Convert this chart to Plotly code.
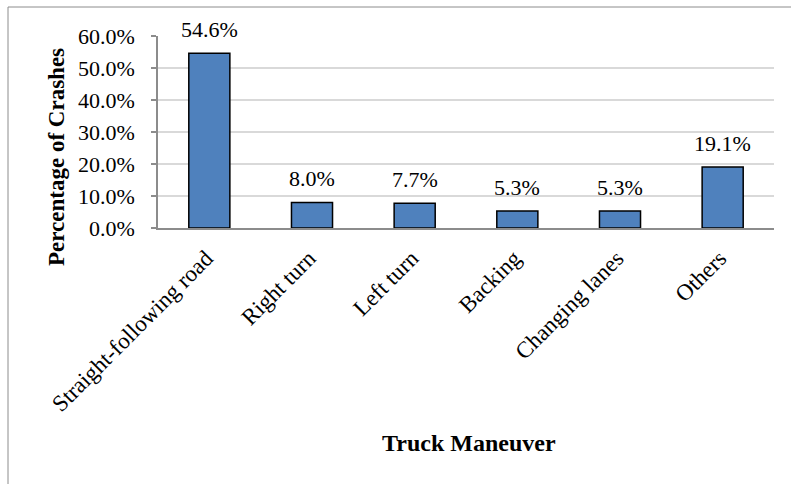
import plotly.graph_objects as go

# Share of truck crashes by maneuver type
maneuvers = ["Straight-following road", "Right turn", "Left turn",
             "Backing", "Changing lanes", "Others"]
shares = [0.546, 0.080, 0.077, 0.053, 0.053, 0.191]
y_ticks = [0.0, 0.1, 0.2, 0.3, 0.4, 0.5, 0.6]

FONT = "Liberation Serif"

fig = go.Figure(
    go.Bar(
        x=maneuvers,
        y=shares,
        marker=dict(color="#4F81BD", line=dict(color="#000000", width=1.5)),
        width=0.4,
        hoverinfo="skip",
    )
)

# value labels sitting just above each bar
for name, v in zip(maneuvers, shares):
    fig.add_annotation(
        x=name, y=v, text=f"{v * 100:.1f}%", showarrow=False,
        yanchor="bottom", yshift=9,
        font=dict(family=FONT, size=22, color="#000000"),
    )

# axis titles
fig.add_annotation(
    x=-0.164, y=0.37, xref="paper", yref="paper",
    xanchor="center", yanchor="middle",
    text="<b>Percentage of Crashes</b>", textangle=-90, showarrow=False,
    font=dict(family=FONT, size=23, color="#000000"),
)
fig.add_annotation(
    x=0.505, y=-1.12, xref="paper", yref="paper",
    xanchor="center", yanchor="middle",
    text="<b>Truck Maneuver</b>", showarrow=False,
    font=dict(family=FONT, size=24, color="#000000"),
)

# chart frame (left and top edges)
frame = dict(color="#8C8C8C", width=1)
fig.add_shape(type="line", xref="paper", yref="paper",
              x0=-0.2435, x1=-0.2435, y0=1.151, y1=-1.5, line=frame)
fig.add_shape(type="line", xref="paper", yref="paper",
              x0=-0.2435, x1=1.5, y0=1.151, y1=1.151, line=frame)

fig.update_layout(
    width=791, height=484,
    margin=dict(l=158, r=17, t=36, b=256),
    paper_bgcolor="white", plot_bgcolor="white",
    showlegend=False,
    bargap=0.6,
    font=dict(family=FONT, size=21, color="#000000"),
    xaxis=dict(
        tickangle=-45,
        tickfont=dict(family=FONT, size=23, color="#000000"),
        showline=True, linecolor="#8C8C8C", linewidth=1.5,
        showgrid=False, ticks="", ticklabelstandoff=6, ticklabelshift=-3,
    ),
    yaxis=dict(
        range=[0, 0.6],
        tickvals=y_ticks,
        tickformat=".1%",
        tickfont=dict(family=FONT, size=22, color="#000000"),
        showline=True, linecolor="#8C8C8C", linewidth=1.5,
        ticks="outside", ticklen=5, tickcolor="#8C8C8C", tickwidth=1.5,
        showgrid=True, gridcolor="#D9D9D9", gridwidth=1.5,
        zeroline=False, ticklabelstandoff=12,
    ),
)

fig.write_html("out.html")
